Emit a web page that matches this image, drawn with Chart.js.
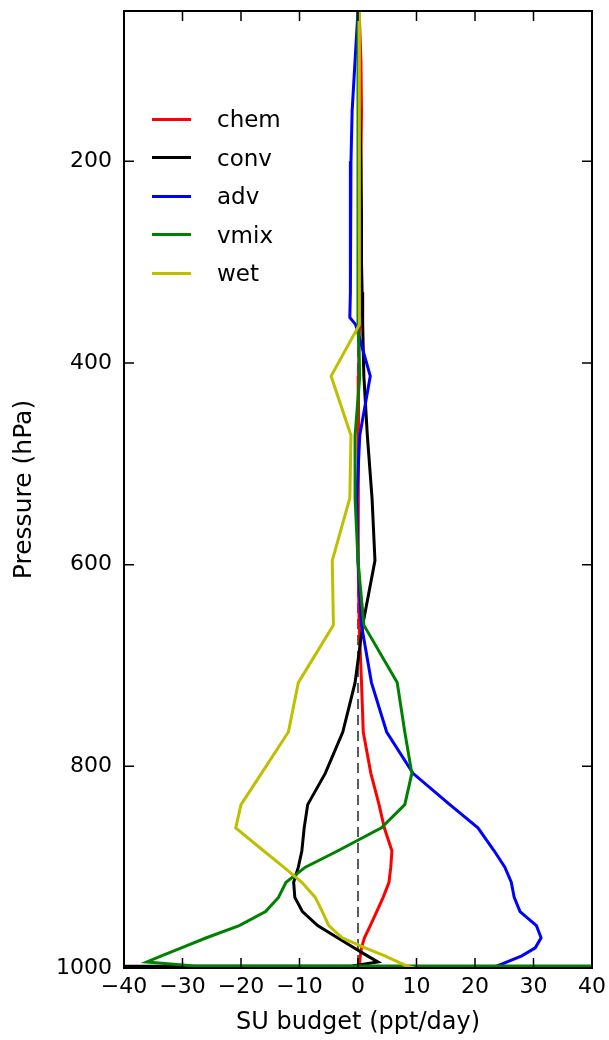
<!DOCTYPE html>
<html>
<head>
<meta charset="utf-8">
<script src="https://cdn.jsdelivr.net/npm/chart.js@4.4.1/dist/chart.umd.min.js"></script>
<style>
  html, body { margin: 0; padding: 0; background: #fff; }
  #wrap { position: relative; width: 609px; height: 1040px; }
  #legend { position: absolute; left: 152px; top: 100px; font-family: "DejaVu Sans", sans-serif; font-size: 23px; color: #000; }
  #legend .row { position: absolute; left: 0; height: 38px; display: flex; align-items: center; white-space: nowrap; }
  #legend .swatch { width: 39px; height: 3px; margin-right: 26px; }
</style>
</head>
<body>
<div id="wrap">
  <canvas id="budget" width="609" height="1040"></canvas>
  <div id="legend"></div>
</div>
<script>
// SU budget tendencies by pressure level (ppt/day)
const levels = [51, 100, 150, 200, 250, 300, 330, 355, 362, 413, 472, 534, 596, 660, 717,
  766, 807, 838, 861, 884, 900, 915, 930, 944, 958, 970, 980, 988, 994, 998, 1000];

const chem = [0.2, 0.5, 0.6, 0.5, 0.4, 0.3, 0.3, 0.3, 0.2, 0.1, 0.0, 0.0, 0.1, 0.2, 0.6,
  0.9, 2.2, 3.6, 4.5, 5.8, 5.6, 5.3, 4.3, 3.2, 2.1, 1.1, 0.6, 0.4, 0.3, 0.3, 0.3];
const conv = [0.0, 0.1, 0.3, 0.5, 0.6, 0.6, 0.7, 0.8, 0.8, 1.0, 1.6, 2.4, 2.9, 0.8, -0.5,
  -2.6, -5.6, -8.6, -9.2, -9.6, -10.2, -11.0, -10.8, -9.5, -6.9, -3.5, -0.7, 1.6, 3.4, -1.0, -400];
const adv = [0.0, -0.5, -1.0, -1.2, -1.3, -1.3, -1.3, -1.4, -0.4, 2.1, 0.3, -0.2, 0.0, 0.6, 2.3,
  4.9, 9.4, 15.7, 20.5, 23.3, 25.1, 26.2, 26.7, 27.7, 30.5, 31.3, 30.3, 28.0, 25.5, 23.8, 22.6];
const vmix = [0.0, 0.0, 0.0, 0.0, 0.0, 0.0, 0.0, 0.0, 0.0, 0.3, -0.5, -0.5, 0.0, 1.0, 6.7,
  8.0, 9.2, 8.0, 4.0, -3.5, -9.0, -12.3, -13.6, -15.8, -20.3, -25.9, -30.2, -33.6, -36.1, -28.0, 2000];
const wet = [0.2, 0.2, 0.2, 0.2, 0.2, 0.2, 0.3, 0.3, 0.3, -4.6, -1.2, -1.4, -4.4, -4.2, -10.2,
  -11.9, -16.5, -20.0, -20.9, -16.1, -12.7, -9.6, -7.3, -6.1, -5.0, -2.7, 1.2, 4.6, 6.8, 8.3, 9.6];

const seriesNames = ['chem', 'conv', 'adv', 'vmix', 'wet'];
const seriesData = [chem, conv, adv, vmix, wet];
const seriesColors = ['#ff0000', '#000000', '#0000ff', '#008000', '#bfbf00'];

const xTicks = [-40, -30, -20, -10, 0, 10, 20, 30, 40];
const yTicks = [200, 400, 600, 800, 1000];

const FONT = 'DejaVu Sans';
const TICK = 10;

const pts = (vals) => levels.map((p, i) => ({ x: vals[i], y: p }));
const minus = (v) => (v < 0 ? '\u2212' + Math.abs(v) : String(v));

// last dataset is painted first, so list wet first to keep it on top
const datasets = seriesNames.map((name, i) => ({
  label: name,
  data: pts(seriesData[i]),
  borderColor: seriesColors[i],
  borderWidth: 3,
  showLine: true,
  pointRadius: 0,
  tension: 0,
})).reverse();

datasets.push({
  label: 'zero',
  data: [{ x: 0, y: levels[0] }, { x: 0, y: levels[levels.length - 1] }],
  borderColor: '#333',
  borderWidth: 1.6,
  borderDash: [10, 6],
  showLine: true,
  pointRadius: 0,
});

// matplotlib-style box with inward ticks on every side
const frame = {
  id: 'frame',
  afterDatasetsDraw(chart) {
    const { ctx, chartArea: a, scales: { x, y } } = chart;
    ctx.save();
    ctx.strokeStyle = '#000';
    ctx.lineWidth = 1.5;
    ctx.beginPath();
    xTicks.forEach((v) => {
      const px = x.getPixelForValue(v);
      ctx.moveTo(px, a.bottom); ctx.lineTo(px, a.bottom - TICK);
      ctx.moveTo(px, a.top); ctx.lineTo(px, a.top + TICK);
    });
    yTicks.forEach((v) => {
      const py = y.getPixelForValue(v);
      ctx.moveTo(a.left, py); ctx.lineTo(a.left + TICK, py);
      ctx.moveTo(a.right, py); ctx.lineTo(a.right - TICK, py);
    });
    ctx.stroke();
    ctx.lineWidth = 2;
    ctx.strokeRect(a.left, a.top, a.right - a.left, a.bottom - a.top);
    ctx.restore();
  },
};

new Chart(document.getElementById('budget'), {
  type: 'scatter',
  data: { datasets },
  options: {
    responsive: false,
    animation: false,
    layout: { padding: { top: 11, right: 17, left: 0, bottom: 0 } },
    plugins: { legend: { display: false }, tooltip: { enabled: false } },
    scales: {
      x: {
        type: 'linear', min: -40, max: 40,
        afterBuildTicks: (s) => { s.ticks = xTicks.map((v) => ({ value: v })); },
        afterFit: (s) => { s.height = 72; s.paddingLeft = 0; s.paddingRight = 0; },
        grid: { display: false, drawTicks: false },
        border: { display: false },
        ticks: { padding: 6, color: '#000', maxRotation: 0, font: { family: FONT, size: 22 }, callback: minus },
        title: { display: true, text: 'SU budget (ppt/day)', color: '#000', font: { family: FONT, size: 24 }, padding: { top: 0, bottom: 3 } },
      },
      y: {
        type: 'linear', reverse: true, min: levels[0], max: 1000,
        afterBuildTicks: (s) => { s.ticks = yTicks.map((v) => ({ value: v })); },
        afterFit: (s) => { s.width = 124; s.paddingTop = 0; s.paddingBottom = 0; },
        grid: { display: false, drawTicks: false },
        border: { display: false },
        ticks: { padding: 12, color: '#000', font: { family: FONT, size: 22 }, callback: (v) => String(v) },
        title: { display: true, text: 'Pressure (hPa)', color: '#000', font: { family: FONT, size: 25 }, padding: { top: 9, bottom: 0 } },
      },
    },
  },
  plugins: [frame],
});

// legend box inside the upper-left of the plot
const legend = document.getElementById('legend');
seriesNames.forEach((name, i) => {
  const row = document.createElement('div');
  row.className = 'row';
  row.style.top = (i * 38.5) + 'px';
  const sw = document.createElement('span');
  sw.className = 'swatch';
  sw.style.background = seriesColors[i];
  const txt = document.createElement('span');
  txt.textContent = name;
  row.appendChild(sw);
  row.appendChild(txt);
  legend.appendChild(row);
});
</script>
</body>
</html>
